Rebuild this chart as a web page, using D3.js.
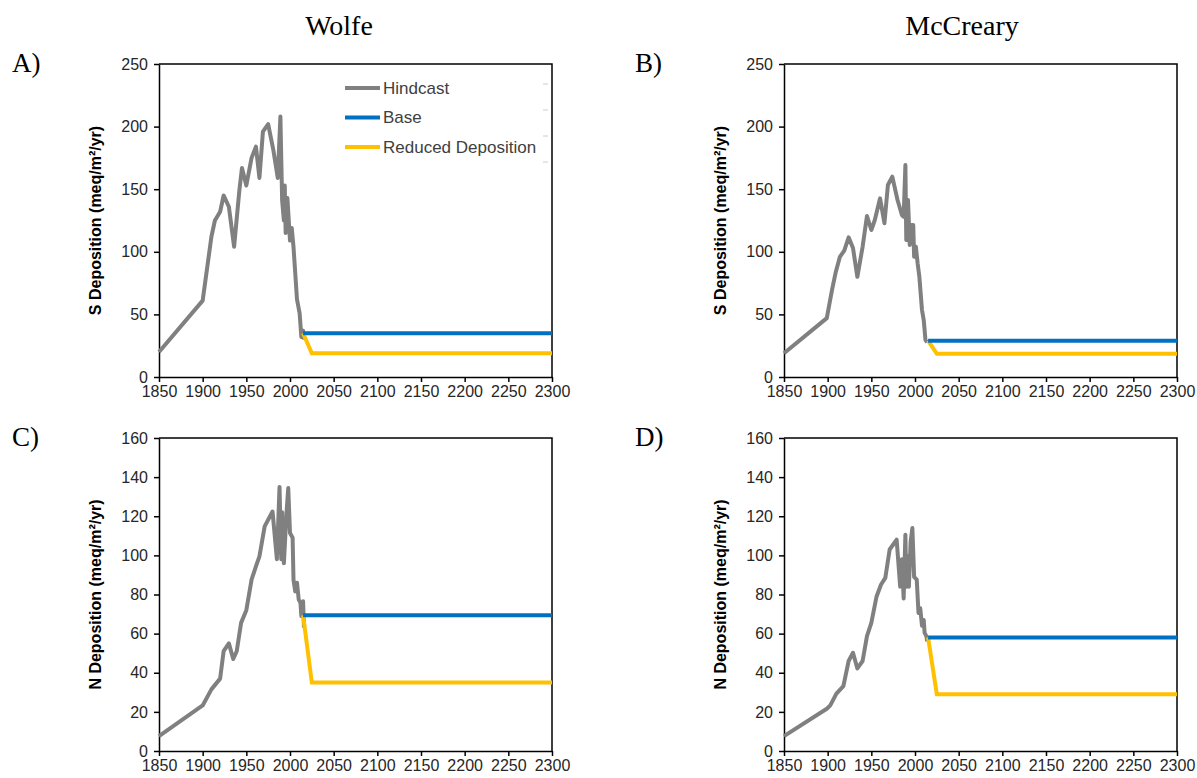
<!DOCTYPE html>
<html>
<head>
<meta charset="utf-8">
<script src="https://cdn.jsdelivr.net/npm/d3@7"></script>
<style>
  html, body { margin: 0; padding: 0; background: #fff; }
  svg { display: block; }
  .tick text { font-family: "Liberation Sans", Arial, sans-serif; font-size: 16px; fill: #262626; }
  .axis path, .axis line { stroke: #000; stroke-width: 1.5px; }
</style>
</head>
<body>
<svg id="chart" width="1197" height="778"></svg>
<script>
// ---- Data: deposition hindcast and future scenarios (meq/m²/yr) ----
const xTicks = [1850, 1900, 1950, 2000, 2050, 2100, 2150, 2200, 2250, 2300];
const sTicks = [0, 50, 100, 150, 200, 250];
const nTicks = [0, 20, 40, 60, 80, 100, 120, 140, 160];

// Wolfe – sulfur
const wolfeSYears  = [1850, 1900, 1910, 1914, 1920, 1924, 1930, 1936, 1942, 1945, 1950, 1956, 1961, 1965, 1969, 1975, 1981, 1986, 1989, 1991, 1993, 1994, 1995, 1997, 2000, 2002, 2004, 2006, 2008, 2011, 2013, 2015, 2016];
const wolfeSValues = [20, 61, 112, 125, 132, 145, 136, 104, 149, 167, 153, 175, 184, 159, 196, 202, 181, 159, 208, 141, 125, 153, 115, 143, 109, 119, 104, 83, 62, 51, 32, 37, 30];
const wolfeSBase = 35;
const wolfeSReduced = 19;

// Wolfe – nitrogen
const wolfeNYears  = [1850, 1900, 1910, 1920, 1924, 1930, 1935, 1939, 1944, 1950, 1956, 1961, 1965, 1971, 1980, 1985, 1988, 1990, 1991, 1993, 1996, 1998, 2000, 2003, 2004, 2006, 2008, 2010, 2012, 2013, 2015, 2016];
const wolfeNValues = [7.6, 23.3, 31.5, 37, 51, 55, 47, 51, 65.5, 72, 87.6, 94.4, 99.5, 114.8, 122.4, 98, 135, 98, 122, 96, 121.6, 134.4, 111.4, 109, 87.6, 81.6, 86, 77.4, 75.7, 69, 76.5, 63];
const wolfeNBase = 69.4;
const wolfeNReduced = 35;

// McCreary – sulfur
const mccrearySYears  = [1850, 1899, 1905, 1909, 1914, 1919, 1924, 1929, 1934, 1940, 1945, 1950, 1954, 1960, 1965, 1969, 1974, 1980, 1985, 1987, 1989, 1990, 1992, 1994, 1996, 1998, 1999, 2001, 2003, 2005, 2008, 2010, 2012, 2014];
const mccrearySValues = [19, 47, 69.5, 83, 96, 101, 111.6, 103, 80, 104, 128.6, 117.4, 125.4, 142.7, 122.8, 153.4, 160, 141.4, 129.4, 128, 169.3, 109.4, 141.4, 105.4, 121.4, 121.4, 96, 104, 90.8, 80, 53.5, 45.5, 29.5, 27.7];
const mccrearySBase = 29;
const mccrearySReduced = 18.5;

// McCreary – nitrogen
const mccrearyNYears  = [1850, 1899, 1903, 1910, 1918, 1924, 1929, 1934, 1940, 1945, 1950, 1956, 1961, 1966, 1971, 1979, 1983, 1985, 1987, 1989, 1990, 1992, 1993, 1995, 1997, 1999, 2002, 2004, 2006, 2008, 2010, 2011, 2013, 2014];
const mccrearyNValues = [7.6, 21.6, 23.3, 29.3, 33.2, 46, 50.2, 42.2, 46, 58.7, 65.5, 79, 85, 88.5, 103, 108, 84, 98, 78, 110.6, 84, 99.5, 84, 107, 114, 89, 87.6, 70.6, 73, 64, 67, 60.4, 58.7, 56];
const mccrearyNBase = 58;
const mccrearyNReduced = 29;

// Scenario timing
const scenarioStart = 2015;
const reductionDone = 2025;
const scenarioEnd = 2300;

const sites = ["Wolfe", "McCreary"];
const seriesNames = ["Hindcast", "Base", "Reduced Deposition"];
const colors = { hindcast: "#808080", base: "#0070C0", reduced: "#FFC000" };

// ---- Layout ----
const svg = d3.select("#chart");
const plotW = 393, plotH = 313;
const panels = [
  { label: "A)", left: 159, top: 64, years: wolfeSYears, values: wolfeSValues, base: wolfeSBase, reduced: wolfeSReduced, ticks: sTicks, yMax: 250, yTitle: "S Deposition (meq/m²/yr)", legend: true },
  { label: "B)", left: 784, top: 64, years: mccrearySYears, values: mccrearySValues, base: mccrearySBase, reduced: mccrearySReduced, ticks: sTicks, yMax: 250, yTitle: "S Deposition (meq/m²/yr)" },
  { label: "C)", left: 159, top: 438, years: wolfeNYears, values: wolfeNValues, base: wolfeNBase, reduced: wolfeNReduced, ticks: nTicks, yMax: 160, yTitle: "N Deposition (meq/m²/yr)" },
  { label: "D)", left: 784, top: 438, years: mccrearyNYears, values: mccrearyNValues, base: mccrearyNBase, reduced: mccrearyNReduced, ticks: nTicks, yMax: 160, yTitle: "N Deposition (meq/m²/yr)" }
];

// Column titles
svg.selectAll("text.site").data(sites).enter().append("text")
  .attr("class", "site")
  .attr("x", (d, i) => i === 0 ? 339 : 962)
  .attr("y", 35)
  .attr("text-anchor", "middle")
  .style("font-family", "'Liberation Serif', 'Times New Roman', serif")
  .style("font-size", "28px")
  .attr("fill", "#000")
  .text(d => d);

panels.forEach(p => {
  const x = d3.scaleLinear().domain([1850, 2300]).range([0, plotW]);
  const y = d3.scaleLinear().domain([0, p.yMax]).range([plotH, 0]);
  const g = svg.append("g").attr("transform", `translate(${p.left},${p.top})`);

  // Panel letter
  svg.append("text")
    .attr("x", p.left < 400 ? 12 : 635)
    .attr("y", p.top + 8)
    .style("font-family", "'Liberation Serif', 'Times New Roman', serif")
    .style("font-size", "27px")
    .attr("fill", "#000")
    .text(p.label);

  // Frame (top and right edges)
  g.append("path")
    .attr("d", `M0,0H${plotW}V${plotH}`)
    .attr("fill", "none").attr("stroke", "#000").attr("stroke-width", 1.5);

  // Axes
  g.append("g").attr("class", "axis")
    .attr("transform", `translate(0,${plotH})`)
    .call(d3.axisBottom(x).tickValues(xTicks).tickFormat(d3.format("d")).tickSize(5).tickSizeOuter(0).tickPadding(4));
  g.append("g").attr("class", "axis")
    .call(d3.axisLeft(y).tickValues(p.ticks).tickSize(5).tickSizeOuter(0).tickPadding(6));

  // Y-axis title
  g.append("text")
    .attr("transform", `translate(-64,${plotH / 2}) rotate(-90)`)
    .attr("text-anchor", "middle")
    .attr("dy", "0.35em")
    .style("font-family", "'Liberation Sans', Arial, sans-serif")
    .style("font-size", "16px")
    .style("font-weight", "bold")
    .attr("fill", "#000")
    .text(p.yTitle);

  const line = d3.line().x(d => x(d[0])).y(d => y(d[1]));

  // Hindcast
  const hind = p.years.map((yr, i) => [yr, p.values[i]]);
  g.append("path").datum(hind)
    .attr("d", line).attr("fill", "none")
    .attr("stroke", colors.hindcast).attr("stroke-width", 4)
    .attr("stroke-linejoin", "round");

  // Reduced deposition scenario
  const red = [[scenarioStart, p.base], [reductionDone, p.reduced], [scenarioEnd, p.reduced]];
  g.append("path").datum(red)
    .attr("d", line).attr("fill", "none")
    .attr("stroke", colors.reduced).attr("stroke-width", 4)
    .attr("stroke-linejoin", "miter");

  // Base scenario
  const base = [[scenarioStart, p.base], [scenarioEnd, p.base]];
  g.append("path").datum(base)
    .attr("d", line).attr("fill", "none")
    .attr("stroke", colors.base).attr("stroke-width", 4);

  // Legend
  if (p.legend) {
    const legendColors = [colors.hindcast, colors.base, colors.reduced];
    const lg = svg.append("g").attr("transform", "translate(345,88)");
    const items = lg.selectAll("g").data(seriesNames).enter().append("g")
      .attr("transform", (d, i) => `translate(0,${i * 29.5})`);
    items.append("line").attr("x1", 0).attr("x2", 35).attr("y1", 0).attr("y2", 0)
      .attr("stroke", (d, i) => legendColors[i]).attr("stroke-width", 4);
    items.append("text").attr("x", 38).attr("dy", "0.35em")
      .style("font-family", "'Liberation Sans', Arial, sans-serif")
      .style("font-size", "17px")
      .attr("fill", "#404040")
      .text(d => d);
    // faint marks along the legend box edge
    lg.selectAll("line.edge").data([0, 1, 2, 3]).enter().append("line")
      .attr("class", "edge")
      .attr("x1", 198).attr("x2", 203)
      .attr("y1", d => -4 + d * 26).attr("y2", d => -4 + d * 26)
      .attr("stroke", "#cccccc").attr("stroke-width", 1);
  }
});
</script>
</body>
</html>
